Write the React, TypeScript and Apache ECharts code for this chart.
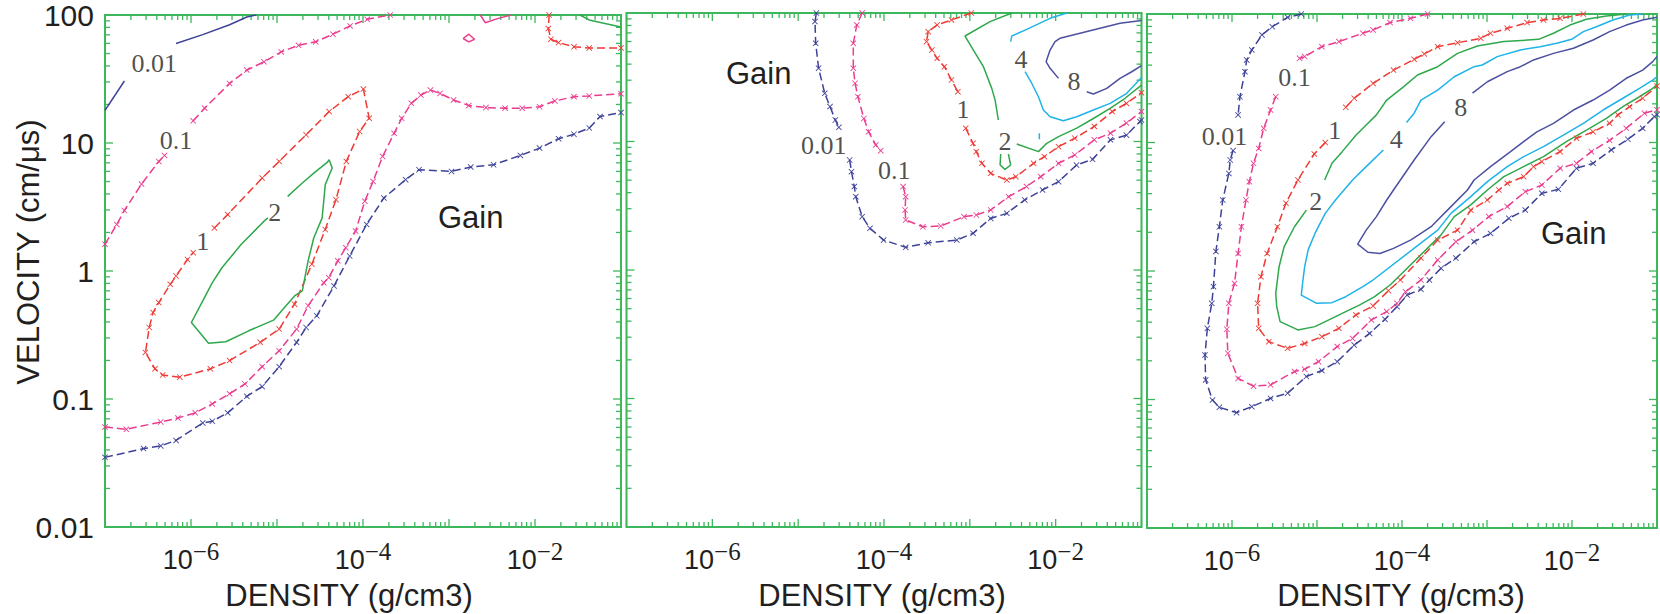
import React, { useEffect, useRef } from "react";
import * as echarts from "echarts";

// ---------- axes ----------
const X_MIN = 1e-7;
const X_MAX = 1e-1;
const Y_MIN = 0.01;
const Y_MAX = 100;
const X_LABEL_EXPONENTS = [-6, -4, -2];
const Y_TICK_LABELS = ["0.01", "0.1", "1", "10", "100"]; // exponents -2..2
const X_TITLE = "DENSITY (g/cm3)";
const Y_TITLE = "VELOCITY (cm/\u03bcs)";
const GAIN_TEXT = "Gain";

// ---------- contour levels ----------
const LEVEL_COLORS: Record<string, string> = {
  "0.01": "#3d4298",
  "0.1": "#ea3b8e",
  "1": "#ee3b36",
  "2": "#2fa84c",
  "4": "#1fb3e8",
  "8": "#4d50a0",
};
const DASHED_LEVELS = ["0.01", "0.1", "1"];

// ---------- panel 1 ----------
const P1_001_A = [[1.0e-7, 18.0], [1.68e-7, 30.5]];
const P1_001_B = [[6.7e-7, 59.8], [1.37e-6, 70.3], [2.81e-6, 84], [4.46e-6, 96.4], [5.75e-6, 100]];
const P1_001_C = [
  [1.0e-7, 0.035], [2.81e-7, 0.041], [4.45e-7, 0.043], [6.7e-7, 0.0475], [1.37e-6, 0.065], [1.77e-6, 0.067],
  [2.67e-6, 0.078], [4.46e-6, 0.105], [6.72e-6, 0.125], [1.06e-5, 0.179], [1.69e-5, 0.277], [2.18e-5, 0.362],
  [2.9e-5, 0.447], [4.6e-5, 0.764], [7.0e-5, 1.31], [1.1e-4, 2.31], [1.75e-4, 3.72], [3.13e-4, 5.17],
  [4.48e-4, 6.18], [1.07e-3, 6.0], [1.79e-3, 6.49], [3.3e-3, 6.76], [6.76e-3, 8.0], [1.13e-2, 9.12],
  [1.88e-2, 10.8], [2.84e-2, 11.7], [4.28e-2, 13.1], [5.7e-2, 16.1], [1.0e-1, 17.3],
];
const P1_01_A = [[1.0e-7, 1.62], [1.37e-7, 2.31], [1.68e-7, 2.97], [2.66e-7, 4.78], [4.22e-7, 7.18], [4.92e-7, 8.0]];
const P1_01_B = [
  [1.06e-6, 14.9], [1.44e-6, 18.7], [2.81e-6, 29.2], [4.46e-6, 37.1], [7.06e-6, 43.1], [1.12e-5, 51.5],
  [1.78e-5, 58.0], [2.82e-5, 61.7], [4.47e-5, 70.8], [7.08e-5, 82.2], [1.12e-4, 92.5], [2.07e-4, 100],
];
const P1_01_C = [
  [1.0e-7, 0.0604], [1.77e-7, 0.058], [4.45e-7, 0.0661], [7.05e-7, 0.071], [1.12e-6, 0.078], [1.77e-6, 0.0916],
  [2.81e-6, 0.11], [4.24e-6, 0.131], [6.72e-6, 0.179], [1.06e-5, 0.238], [1.69e-5, 0.352], [2.3e-5, 0.535],
  [3.5e-5, 0.81], [4.0e-5, 0.887], [5.1e-5, 1.2], [6.3e-5, 1.52], [8.2e-5, 2.05], [1.05e-4, 3.51],
  [1.31e-4, 5.01], [1.69e-4, 7.85], [2.3e-4, 11.9], [2.82e-4, 15.6], [3.65e-4, 20.4], [4.71e-4, 23.7],
  [6.09e-4, 25.9], [7.87e-4, 24.4], [1.13e-3, 21.7], [1.7e-3, 19.6], [2.69e-3, 18.9], [4.49e-3, 18.7],
  [7.11e-3, 18.7], [1.13e-2, 19.2], [1.7e-2, 21.3], [2.84e-2, 23.0], [4.28e-2, 23.3], [1.0e-1, 24.3],
];
const P1_01_D = [[1.46e-3, 65.5], [1.7e-3, 70.8], [1.98e-3, 64.7], [1.7e-3, 61.7], [1.46e-3, 65.5]];
const P1_01_E = [[2.31e-3, 100], [2.64e-3, 87.1], [3.66e-3, 93.7], [5.2e-3, 100]];
const P1_1_A = [
  [1.87e-6, 2.17], [2.67e-6, 2.76], [6.72e-6, 5.32], [1.06e-5, 7.18], [2.18e-5, 11.6], [4.04e-5, 17.6],
  [6.73e-5, 23.0], [1.01e-4, 26.4], [1.18e-4, 15.6], [9.14e-5, 12.3], [6.4e-5, 7.18], [4.85e-5, 3.61],
  [3.64e-5, 2.11], [2.54e-5, 1.13], [1.6e-5, 0.551], [1.06e-5, 0.352], [6.38e-6, 0.277], [2.81e-6, 0.1995],
  [1.68e-6, 0.172], [7.41e-7, 0.148], [4.68e-7, 0.154], [3.81e-7, 0.172], [2.95e-7, 0.231], [3.27e-7, 0.362],
  [3.62e-7, 0.474], [4.22e-7, 0.567], [5.74e-7, 0.787], [6.7e-7, 0.914], [9.1e-7, 1.23], [1.06e-6, 1.39],
];
const P1_1_B = [[1.46e-2, 100], [1.43e-2, 78.3], [1.53e-2, 64.7], [1.88e-2, 60.9], [2.84e-2, 56.4], [4.28e-2, 55.3], [1.0e-1, 55.3]];
const P1_2_A = [
  [1.33e-5, 3.83], [1.97e-5, 4.87], [2.68e-5, 5.82], [3.83e-5, 7.05], [4.04e-5, 7.39], [4.38e-5, 6.37],
  [3.64e-5, 4.73], [3.35e-5, 2.6], [2.68e-5, 1.82], [2.3e-5, 1.2], [1.97e-5, 0.7], [1.6e-5, 0.639],
  [1.18e-5, 0.504], [9.12e-6, 0.413], [4.69e-6, 0.341], [2.54e-6, 0.28], [1.6e-6, 0.273], [1.01e-6, 0.396],
  [1.37e-6, 0.585], [1.77e-6, 0.81], [2.29e-6, 1.06], [3.82e-6, 1.61], [7.06e-6, 2.45], [7.83e-6, 2.6],
];
const P1_2_B = [[3.33e-2, 100], [4.37e-2, 90.9], [1.0e-1, 80.7]];
const P1_LABELS = [["0.01", 3.73e-7, 41.8], ["0.1", 6.7e-7, 10.4], ["1", 1.37e-6, 1.71], ["2", 9.42e-6, 2.84]];

// ---------- panel 2 ----------
const P2_001_A = [[1.63e-5, 100], [1.57e-5, 85.7], [1.6e-5, 58.1], [1.73e-5, 37.2], [2.04e-5, 23.7], [2.35e-5, 18.7], [2.71e-5, 14.7], [2.98e-5, 12.9]];
const P2_001_B = [
  [3.98e-5, 7.18], [4.18e-5, 5.82], [4.51e-5, 4.46], [4.69e-5, 3.72], [5.57e-5, 2.6], [6.87e-5, 2.11],
  [9.89e-5, 1.71], [1.79e-4, 1.5], [3.27e-4, 1.63], [7.05e-4, 1.71], [1.09e-3, 1.93], [1.75e-3, 2.52],
  [2.7e-3, 2.76], [4.36e-3, 3.51], [7.03e-3, 4.2], [1.08e-2, 4.87], [1.75e-2, 6.56], [2.69e-2, 7.26],
  [4.35e-2, 10.3], [6.68e-2, 11.2], [9.6e-2, 14.3], [1.0e-1, 14.7],
];
const P2_01_A = [[5.57e-5, 100], [4.82e-5, 80.7], [4.39e-5, 58.1], [4.39e-5, 37.2], [4.6e-5, 28.4], [4.97e-5, 22.3], [5.83e-5, 15.1], [6.62e-5, 11.9], [8.02e-5, 9.4], [9.16e-5, 8.49]];
const P2_01_B = [
  [1.67e-4, 4.46], [1.79e-4, 3.72], [1.76e-4, 2.93], [1.79e-4, 2.45], [2.84e-4, 2.17], [4.58e-4, 2.2],
  [8.55e-4, 2.6], [1.19e-3, 2.68], [1.75e-3, 2.93], [2.83e-3, 3.72], [4.57e-3, 4.46], [6.7e-3, 5.32],
  [1.08e-2, 6.76], [1.67e-2, 7.85], [2.82e-2, 10.3], [4.35e-2, 11.6], [6.68e-2, 13.9], [1.0e-1, 17.1],
];
const P2_1_A = [[1.04e-3, 100], [6.11e-4, 88.3], [4.16e-4, 80.7], [3.27e-4, 71.6], [3.13e-4, 59.8], [3.61e-4, 51.5], [4.16e-4, 44.4], [5.05e-4, 38.2], [6.11e-4, 30.1], [7.26e-4, 24.4]];
const P2_1_B = [
  [8.95e-4, 12.7], [1.09e-3, 9.68], [1.19e-3, 8.34], [1.38e-3, 6.76], [1.75e-3, 5.65], [2.7e-3, 5.01],
  [3.43e-3, 5.32], [5.53e-3, 6.76], [7.38e-3, 7.62], [1.08e-2, 9.12], [1.67e-2, 10.6], [2.82e-2, 13.1],
  [4.56e-2, 17.1], [6.68e-2, 19.8], [1.0e-1, 24.0],
];
const P2_2_A = [[3.08e-3, 100], [1.72e-3, 85.7], [8.79e-4, 66.2], [1.1e-3, 51.5], [1.44e-3, 38.2], [1.8e-3, 25.9], [1.97e-3, 21.0], [2.15e-3, 14.7]];
const P2_2_B = [[3.52e-3, 9.57], [6.3e-3, 8.34], [7.87e-3, 9.68], [1.08e-2, 10.9], [1.76e-2, 12.7], [2.75e-2, 15.1], [4.31e-2, 18.1], [6.43e-2, 21.7], [1.0e-1, 27.5]];
const P2_2_C = [[2.29e-3, 8.0], [2.25e-3, 6.56], [2.57e-3, 6.07], [2.99e-3, 6.56], [2.81e-3, 8.0]];
const P2_4_A = [[1.35e-2, 100], [8.61e-3, 90.9], [4.6e-3, 74.6], [3.08e-3, 66.2], [2.99e-3, 59.8]];
const P2_4_B = [[4.4e-3, 34.9], [5.26e-3, 28.4], [6.3e-3, 22.3], [7.19e-3, 17.6], [8.61e-3, 15.6], [1.23e-2, 14.5], [1.76e-2, 15.6], [2.75e-2, 17.6], [4.31e-2, 19.8], [6.73e-2, 23.7], [1.0e-1, 31.5]];
const P2_4_C = [[6.46e-3, 11.6], [6.46e-3, 10.4]];
const P2_8_A = [[1.0e-1, 87.5], [5.62e-2, 83.2], [3.29e-2, 76.0], [1.92e-2, 69.5], [1.12e-2, 63.5], [9.84e-3, 59.8], [8.61e-3, 51.5], [7.73e-3, 41.8], [8.61e-3, 37.1], [1.08e-2, 31.0]];
const P2_8_B = [[2.3e-2, 24.4], [2.75e-2, 23.4], [3.94e-2, 25.9], [5.62e-2, 31.0], [7.69e-2, 34.9], [1.0e-1, 39.0]];
const P2_LABELS = [["0.01", 1.98e-5, 9.23], ["0.1", 1.32e-4, 6.0], ["1", 8.3e-4, 17.6], ["2", 2.57e-3, 9.98], ["4", 3.95e-3, 43.1], ["8", 1.64e-2, 29.2]];

// ---------- panel 3 ----------
const P3_001_A = [[6.53e-6, 100], [4.51e-6, 94.2], [2.98e-6, 79.6], [2.25e-6, 68.7], [1.71e-6, 52.5], [1.49e-6, 43.9], [1.42e-6, 35.6], [1.24e-6, 22.7], [1.18e-6, 16.4]];
const P3_001_B = [
  [1.03e-6, 8.65], [9.53e-7, 7.31], [9.18e-7, 5.75], [7.78e-7, 3.57], [7.1e-7, 2.21], [6.46e-7, 1.42],
  [6.05e-7, 0.755], [5.78e-7, 0.56], [5.13e-7, 0.358], [4.81e-7, 0.222], [4.9e-7, 0.142], [5.89e-7, 0.099],
  [7.1e-7, 0.0869], [1.13e-6, 0.079], [1.71e-6, 0.0879], [2.84e-6, 0.102], [4.51e-6, 0.112], [7.5e-6, 0.151],
  [1.14e-5, 0.168], [1.73e-5, 0.197], [2.74e-5, 0.265], [4.16e-5, 0.327], [6.31e-5, 0.421], [8.73e-5, 0.528],
  [1.15e-4, 0.65], [1.67e-4, 0.72], [2.1e-4, 0.851], [2.88e-4, 1.05], [4.31e-4, 1.26], [7.05e-4, 1.69],
  [1.1e-3, 1.96], [1.81e-3, 2.57], [2.82e-3, 2.98], [4.42e-3, 4.02], [6.92e-3, 4.32], [1.13e-2, 6.3],
  [1.77e-2, 6.89], [2.9e-2, 8.75], [4.54e-2, 10.6], [6.79e-2, 12.9], [9.3e-2, 15.9], [1.0e-1, 16.5],
];
const P3_01_A = [[2.0e-4, 100], [1.26e-4, 92.5], [7.24e-5, 85.7], [4.56e-5, 75.2], [3.46e-5, 70.8], [1.81e-5, 61.0], [1.14e-5, 55.7], [7.16e-6, 46.6], [6.24e-6, 45.2]];
const P3_01_B = [
  [3.27e-6, 22.7], [2.84e-6, 17.9], [2.36e-6, 12.9], [2.06e-6, 9.0], [1.79e-6, 6.89], [1.6e-6, 4.96],
  [1.46e-6, 3.57], [1.29e-6, 2.21], [1.18e-6, 1.37], [1.07e-6, 0.8], [9.18e-7, 0.56], [8.69e-7, 0.352],
  [8.93e-7, 0.229], [1.18e-6, 0.146], [1.79e-6, 0.127], [2.84e-6, 0.13], [5.43e-6, 0.165], [7.16e-6, 0.172],
  [1.04e-5, 0.197], [1.73e-5, 0.258], [2.62e-5, 0.299], [4.36e-5, 0.416], [6.61e-5, 0.483], [8.73e-5, 0.56],
  [1.1e-4, 0.69], [1.67e-4, 0.851], [2.63e-4, 1.22], [4.31e-4, 1.69], [6.75e-4, 2.08], [1.05e-3, 2.65],
  [1.73e-3, 3.17], [2.82e-3, 4.14], [4.42e-3, 4.67], [7.24e-3, 6.3], [1.13e-2, 6.89], [1.69e-2, 8.49],
  [2.77e-2, 10.4], [4.35e-2, 12.9], [7.11e-2, 16.9], [1.0e-1, 18.0],
];
const P3_1_A = [
  [1.36e-2, 100], [7.24e-3, 92.5], [4.62e-3, 89.8], [2.96e-3, 85.7], [1.73e-3, 77.3], [1.1e-3, 70.8],
  [8.44e-4, 64.7], [4.5e-4, 59.8], [2.63e-4, 55.7], [1.83e-4, 48.9], [1.39e-4, 44.4], [7.94e-5, 36.6],
  [4.56e-5, 28.8], [2.74e-5, 22.1], [2.18e-5, 18.8],
];
const P3_1_B = [
  [1.25e-5, 9.98], [9.29e-6, 8.15], [5.96e-6, 5.11], [4.31e-6, 3.37], [3.42e-6, 2.21], [2.59e-6, 1.37],
  [2.19e-6, 0.903], [2.0e-6, 0.56], [2.06e-6, 0.358], [2.71e-6, 0.282], [4.51e-6, 0.25], [7.16e-6, 0.273],
  [1.14e-5, 0.308], [1.81e-5, 0.358], [2.87e-5, 0.455], [4.56e-5, 0.535], [6.92e-5, 0.703], [9.57e-5, 0.851],
  [1.67e-4, 1.26], [2.63e-4, 1.74], [4.5e-4, 2.08], [6.44e-4, 2.98], [1.01e-3, 3.57], [1.38e-3, 4.27],
  [1.73e-3, 4.81], [2.7e-3, 5.42], [3.53e-3, 6.49], [4.42e-3, 7.1], [7.24e-3, 8.49], [1.13e-2, 10.8],
  [1.77e-2, 12.1], [2.77e-2, 14.1], [3.47e-2, 16.4], [4.75e-2, 19.0], [6.79e-2, 22.1], [1.0e-1, 27.5],
];
const P3_2_A = [
  [4.35e-2, 100], [2.54e-2, 96.4], [1.48e-2, 90.9], [9.46e-3, 82.0], [6.05e-3, 70.8], [4.05e-3, 63.5],
  [1.58e-3, 61.0], [7.71e-4, 56.4], [4.5e-4, 49.4], [2.63e-4, 38.9], [1.52e-4, 33.5], [1.05e-4, 27.2],
  [6.61e-5, 21.4], [5.0e-5, 16.4], [3.79e-5, 13.7], [2.87e-5, 11.4], [1.98e-5, 8.49], [1.5e-5, 6.89], [1.23e-5, 5.11],
];
const P3_2_B = [
  [7.5e-6, 2.98], [5.43e-6, 2.21], [4.11e-6, 1.55], [3.58e-6, 1.08], [3.27e-6, 0.67], [3.36e-6, 0.528],
  [3.68e-6, 0.404], [5.96e-6, 0.348], [9.46e-6, 0.369], [1.5e-5, 0.428], [2.18e-5, 0.483], [3.15e-5, 0.543],
  [4.77e-5, 0.631], [7.24e-5, 0.778], [8.32e-5, 0.851], [2.88e-4, 1.91], [4.12e-4, 2.65], [6.44e-4, 3.27],
  [1.01e-3, 4.27], [1.58e-3, 5.42], [2.7e-3, 6.49], [4.62e-3, 7.76], [8.67e-3, 10.2], [1.48e-2, 12.5],
  [2.54e-2, 15.4], [3.97e-2, 19.0], [6.22e-2, 22.7], [8.9e-2, 26.4], [1.0e-1, 28.1],
];
const P3_4_A = [
  [6.79e-2, 100], [4.75e-2, 98.2], [3.03e-2, 89.8], [1.94e-2, 79.6], [1.36e-2, 72.9], [9.91e-3, 63.5],
  [6.62e-3, 59.2], [4.23e-3, 55.7], [2.47e-3, 52.5], [1.32e-3, 46.6], [8.81e-4, 40.1], [7.05e-4, 38.9],
  [4.12e-4, 32.5], [2.63e-4, 25.6], [1.67e-4, 21.4], [1.39e-4, 16.9], [1.13e-4, 14.3],
];
const P3_4_B = [
  [6.03e-5, 8.75], [3.79e-5, 6.49], [2.62e-5, 5.11], [1.65e-5, 3.57], [1.25e-5, 2.81], [9.46e-6, 1.96],
  [7.87e-6, 1.46], [7.16e-6, 1.08], [6.84e-6, 0.851], [6.53e-6, 0.65], [9.91e-6, 0.56], [1.5e-5, 0.567],
  [2.18e-5, 0.631], [3.46e-5, 0.755], [4.56e-5, 0.851], [2.63e-4, 2.08], [3.77e-4, 2.81], [6.44e-4, 3.79],
  [1.01e-3, 4.96], [1.73e-3, 6.49], [2.7e-3, 7.76], [4.62e-3, 9.29], [7.92e-3, 11.4], [1.36e-2, 14.1],
  [2.32e-2, 17.9], [3.97e-2, 22.1], [6.22e-2, 26.4], [8.9e-2, 30.6], [1.0e-1, 32.5],
];
const P3_8_A = [
  [1.0e-1, 94.2], [6.79e-2, 89.8], [4.35e-2, 82.0], [2.77e-2, 72.9], [1.77e-2, 62.8], [1.04e-2, 54.1],
  [6.05e-3, 49.4], [3.53e-3, 43.9], [2.47e-3, 38.9], [1.73e-3, 35.6], [1.01e-3, 29.7], [6.75e-4, 24.2],
];
const P3_8_B = [
  [3.18e-4, 14.5], [2.2e-4, 11.1], [1.39e-4, 7.31], [9.57e-5, 5.11], [6.61e-5, 3.57], [5.0e-5, 2.65],
  [3.79e-5, 2.08], [3.01e-5, 1.62], [3.97e-5, 1.4], [5.5e-5, 1.37], [7.94e-5, 1.5], [1.26e-4, 1.74],
  [1.67e-4, 1.96], [2.2e-4, 2.21], [2.63e-4, 2.49], [3.77e-4, 3.17], [5.89e-4, 4.27], [7.05e-4, 5.11],
  [1.1e-3, 6.49], [1.89e-3, 8.49], [2.82e-3, 10.4], [3.86e-3, 12.1], [6.05e-3, 14.1], [1.04e-2, 17.9],
  [1.77e-2, 21.4], [2.77e-2, 25.6], [4.35e-2, 31.6], [6.79e-2, 36.6], [8.9e-2, 42.6], [1.0e-1, 46.6],
];
const P3_LABELS = [["0.01", 8.15e-7, 11.2], ["0.1", 5.43e-6, 32.1], ["1", 1.62e-5, 12.4], ["2", 9.64e-6, 3.47], ["4", 8.57e-5, 10.5], ["8", 4.92e-4, 18.8]];

const CONTOURS: { panel: number; level: string; data: number[][] }[] = [
  { panel: 0, level: "0.01", data: P1_001_A }, { panel: 0, level: "0.01", data: P1_001_B }, { panel: 0, level: "0.01", data: P1_001_C },
  { panel: 0, level: "0.1", data: P1_01_A }, { panel: 0, level: "0.1", data: P1_01_B }, { panel: 0, level: "0.1", data: P1_01_C },
  { panel: 0, level: "0.1", data: P1_01_D }, { panel: 0, level: "0.1", data: P1_01_E },
  { panel: 0, level: "1", data: P1_1_A }, { panel: 0, level: "1", data: P1_1_B },
  { panel: 0, level: "2", data: P1_2_A }, { panel: 0, level: "2", data: P1_2_B },
  { panel: 1, level: "0.01", data: P2_001_A }, { panel: 1, level: "0.01", data: P2_001_B },
  { panel: 1, level: "0.1", data: P2_01_A }, { panel: 1, level: "0.1", data: P2_01_B },
  { panel: 1, level: "1", data: P2_1_A }, { panel: 1, level: "1", data: P2_1_B },
  { panel: 1, level: "2", data: P2_2_A }, { panel: 1, level: "2", data: P2_2_B }, { panel: 1, level: "2", data: P2_2_C },
  { panel: 1, level: "4", data: P2_4_A }, { panel: 1, level: "4", data: P2_4_B }, { panel: 1, level: "4", data: P2_4_C },
  { panel: 1, level: "8", data: P2_8_A }, { panel: 1, level: "8", data: P2_8_B },
  { panel: 2, level: "0.01", data: P3_001_A }, { panel: 2, level: "0.01", data: P3_001_B },
  { panel: 2, level: "0.1", data: P3_01_A }, { panel: 2, level: "0.1", data: P3_01_B },
  { panel: 2, level: "1", data: P3_1_A }, { panel: 2, level: "1", data: P3_1_B },
  { panel: 2, level: "2", data: P3_2_A }, { panel: 2, level: "2", data: P3_2_B },
  { panel: 2, level: "4", data: P3_4_A }, { panel: 2, level: "4", data: P3_4_B },
  { panel: 2, level: "8", data: P3_8_A }, { panel: 2, level: "8", data: P3_8_B },
];
const PANEL_LABELS = [P1_LABELS, P2_LABELS, P3_LABELS];

// ---------- layout / style ----------
const GREEN = "#3db75b";
const INK = "#231f20";
const SANS = "Liberation Sans";
const SERIF = "Liberation Serif";
const GRIDS = [
  { left: 105, top: 13, width: 516, height: 514 },
  { left: 626.5, top: 13, width: 515, height: 514 },
  { left: 1147, top: 14, width: 514, height: 514 },
];
const GAIN_POS = [[438, 217], [726, 73], [1541, 233]];
const X_TITLE_POS = [[349, 595], [882, 595], [1401, 595]];
const X_SYMBOL = "path://M0,1L1,0L5,4L9,0L10,1L6,5L10,9L9,10L5,6L1,10L0,9L4,5Z";

function buildTicks(): number[][] {
  const items: number[][] = [];
  for (let e = -7; e <= -1; e++) {
    for (let m = 1; m <= 9; m++) {
      const v = m * Math.pow(10, e);
      if (v > X_MAX * 1.0001) break;
      items.push([v, 1, 0, m === 1 ? 1 : 0]);
    }
  }
  for (let e = -2; e <= 2; e++) {
    for (let m = 1; m <= 9; m++) {
      const v = m * Math.pow(10, e);
      if (v > Y_MAX * 1.0001) break;
      items.push([1e-4, v, 1, m === 1 ? 1 : 0]);
    }
  }
  return items;
}

export default function App() {
  const ref = useRef<HTMLDivElement>(null);
  useEffect(() => {
    if (!ref.current) return;
    const chart = echarts.init(ref.current, null, { renderer: "svg" });
    const ticks = buildTicks();

    const xAxes = GRIDS.map((_, i) => ({
      type: "log",
      logBase: 10,
      gridIndex: i,
      min: X_MIN,
      max: X_MAX,
      splitNumber: 6,
      axisLine: { show: false },
      axisTick: { show: false },
      splitLine: { show: false },
      axisLabel: {
        margin: 12,
        formatter: (v: number) => {
          const e = Math.round(Math.log10(v));
          return X_LABEL_EXPONENTS.includes(e) ? `{b|10}{s|\u2212${-e}}` : "";
        },
        rich: {
          b: { fontFamily: SANS, fontSize: 27, color: INK },
          s: { fontFamily: SERIF, fontSize: 25, color: INK, padding: [0, 0, 16, 0] },
        },
      },
    }));
    const yAxes = GRIDS.map((_, i) => ({
      type: "log",
      logBase: 10,
      gridIndex: i,
      min: Y_MIN,
      max: Y_MAX,
      splitNumber: 4,
      axisLine: { show: false },
      axisTick: { show: false },
      splitLine: { show: false },
      axisLabel: {
        show: i === 0,
        margin: 11,
        fontFamily: SANS,
        fontSize: 30,
        color: INK,
        formatter: (v: number) => Y_TICK_LABELS[Math.round(Math.log10(v)) + 2] ?? "",
      },
    }));

    const series: any[] = [];
    GRIDS.forEach((_, i) => {
      series.push({
        type: "custom",
        xAxisIndex: i,
        yAxisIndex: i,
        silent: true,
        clip: false,
        z: 1,
        encode: { x: 0, y: 1 },
        data: ticks,
        renderItem: (_p: any, api: any) => {
          const v0 = api.value(0), v1 = api.value(1), kind = api.value(2), major = api.value(3);
          const len = major ? 8 : 5;
          const style = { stroke: GREEN, lineWidth: 1.3 };
          if (kind === 0) {
            const b = api.coord([v0, Y_MIN]);
            const t = api.coord([v0, Y_MAX]);
            return {
              type: "group",
              children: [
                { type: "line", shape: { x1: b[0], y1: b[1], x2: b[0], y2: b[1] - len }, style },
                { type: "line", shape: { x1: t[0], y1: t[1], x2: t[0], y2: t[1] + len }, style },
              ],
            };
          }
          const l = api.coord([X_MIN, v1]);
          const r = api.coord([X_MAX, v1]);
          return {
            type: "group",
            children: [
              { type: "line", shape: { x1: l[0], y1: l[1], x2: l[0] + len, y2: l[1] }, style },
              { type: "line", shape: { x1: r[0], y1: r[1], x2: r[0] - len, y2: r[1] }, style },
            ],
          };
        },
      });
    });

    CONTOURS.forEach((c) => {
      const color = LEVEL_COLORS[c.level];
      const dashed = DASHED_LEVELS.includes(c.level) && c.data.length > 5;
      series.push({
        type: "line",
        xAxisIndex: c.panel,
        yAxisIndex: c.panel,
        data: c.data,
        silent: true,
        z: 3,
        clip: true,
        showSymbol: dashed,
        symbol: X_SYMBOL,
        symbolSize: 6,
        itemStyle: { color },
        lineStyle: { color, width: 1.5, type: dashed ? [8, 4] : "solid" },
      });
    });

    PANEL_LABELS.forEach((labels, i) => {
      series.push({
        type: "scatter",
        xAxisIndex: i,
        yAxisIndex: i,
        silent: true,
        z: 4,
        symbol: "circle",
        symbolSize: 1,
        itemStyle: { color: "transparent" },
        data: labels.map((l) => ({ name: l[0] as string, value: [l[1], l[2]] })),
        label: {
          show: true,
          position: "inside",
          formatter: "{b}",
          fontFamily: SERIF,
          fontSize: 26,
          color: INK,
        },
      });
    });

    const graphic: any[] = [];
    GAIN_POS.forEach((p) =>
      graphic.push({
        type: "text",
        x: p[0],
        y: p[1],
        style: { text: GAIN_TEXT, fontFamily: SANS, fontSize: 31, fill: INK, align: "left", verticalAlign: "middle" },
      })
    );
    X_TITLE_POS.forEach((p) =>
      graphic.push({
        type: "text",
        x: p[0],
        y: p[1],
        style: { text: X_TITLE, fontFamily: SANS, fontSize: 31, fill: INK, align: "center", verticalAlign: "middle" },
      })
    );
    graphic.push({
      type: "text",
      x: 28,
      y: 252,
      rotation: Math.PI / 2,
      style: { text: Y_TITLE, fontFamily: SANS, fontSize: 31, fill: INK, align: "center", verticalAlign: "middle" },
    });

    chart.setOption({
      animation: false,
      backgroundColor: "#ffffff",
      grid: GRIDS.map((g) => ({ ...g, show: true, borderColor: GREEN, borderWidth: 2, backgroundColor: "transparent" })),
      xAxis: xAxes,
      yAxis: yAxes,
      series,
      graphic,
    });
    return () => chart.dispose();
  }, []);
  return <div ref={ref} style={{ position: "absolute", left: 0, top: 0, width: 1660, height: 614 }} />;
}
